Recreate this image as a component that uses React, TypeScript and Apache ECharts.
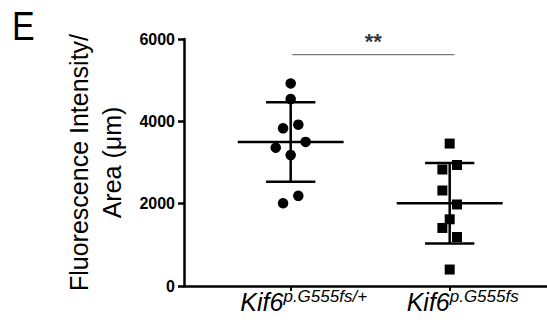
import React, { useEffect, useRef } from "react";
import * as echarts from "echarts";

// ---- data ----
const categoryBase = ["Kif6", "Kif6"];
const categorySup = ["p.G555fs/+", "p.G555fs"];
const categoryPos = [1, 2];

const wtValues = [4920, 4540, 3830, 3920, 3500, 3360, 3180, 2190, 2010];
const wtJitter = [0, 0, -0.048, 0.048, 0.094, -0.094, 0, 0.048, -0.048];
const mutValues = [3460, 2940, 2830, 2320, 1980, 1620, 1410, 1190, 400];
const mutJitter = [0, 0.046, -0.046, -0.046, 0.046, 0, -0.046, 0.046, 0];

const groupMeans = [3500, 2010];
const groupSD = [966, 978];

const yTicks = [0, 2000, 4000, 6000];
const sigLevel = 5620;
const sigLabel = "**";
const sigFrom = 1.01;
const sigTo = 2.03;

const yTitle = ["Fluorescence Intensity/", "Area (\u03bcm)"];
const panelLabel = "E";

const FONT = "'Liberation Sans', Arial, Helvetica, sans-serif";
const MEAN_HALF = 0.333;
const SD_HALF = 0.155;

export default function App() {
  const ref = useRef<HTMLDivElement>(null);
  useEffect(() => {
    if (!ref.current) return;
    const chart = echarts.init(ref.current, null, { renderer: "svg" });
    const wtData = wtValues.map((v, i) => [categoryPos[0] + wtJitter[i], v]);
    const mutData = mutValues.map((v, i) => [categoryPos[1] + mutJitter[i], v]);
    const errData = categoryPos.map((p, i) => [p, groupMeans[i], groupSD[i]]);

    const option: any = {
      animation: false,
      backgroundColor: "#fff",
      grid: { left: 184, right: 0, top: 39, bottom: 39, containLabel: false },
      graphic: [
        {
          type: "text",
          left: 12,
          top: 6,
          scaleX: 0.85,
          style: { text: panelLabel, font: `40px ${FONT}`, fill: "#000" },
        },
      ],
      xAxis: {
        type: "value",
        min: 0.329,
        max: 2.612,
        splitLine: { show: false },
        axisLine: { show: true, lineStyle: { color: "#000", width: 2.5 } },
        axisTick: {
          show: true,
          customValues: categoryPos,
          length: 5,
          lineStyle: { color: "#000", width: 2 },
        },
        axisLabel: {
          show: true,
          customValues: categoryPos,
          margin: 2,
          padding: [0, 0, 0, 26],
          formatter: (v: number) => {
            const i = categoryPos.indexOf(Math.round(v));
            if (i < 0) return "";
            return `{k|${categoryBase[i]}}{s|${categorySup[i]}}`;
          },
          rich: {
            k: {
              fontSize: 25,
              fontStyle: "italic",
              fontFamily: FONT,
              color: "#000",
              lineHeight: 26,
              verticalAlign: "bottom",
            },
            s: {
              fontSize: 17,
              fontStyle: "italic",
              fontFamily: FONT,
              color: "#000",
              lineHeight: 22,
              verticalAlign: "top",
            },
          },
        },
      },
      yAxis: {
        type: "value",
        min: 0,
        max: 6000,
        interval: 2000,
        splitLine: { show: false },
        axisLine: { show: true, lineStyle: { color: "#000", width: 2.5 } },
        axisTick: { show: true, length: 6, lineStyle: { color: "#000", width: 2.5 } },
        axisLabel: {
          margin: 9,
          color: "#000",
          fontWeight: "bold",
          fontSize: 16,
          fontFamily: FONT,
          formatter: (v: number) => (yTicks.indexOf(v) >= 0 ? String(v) : ""),
        },
        name: yTitle.join("\n"),
        nameLocation: "middle",
        nameRotate: 90,
        nameGap: 53,
        nameTextStyle: {
          fontSize: 25,
          lineHeight: 33,
          fontFamily: FONT,
          color: "#000",
        },
      },
      series: [
        {
          type: "scatter",
          data: wtData,
          symbol: "circle",
          symbolSize: 10.5,
          itemStyle: { color: "#000", opacity: 1 },
          z: 2,
        },
        {
          type: "scatter",
          data: mutData,
          symbol: "rect",
          symbolSize: 10,
          itemStyle: { color: "#000", opacity: 1 },
          z: 2,
        },
        {
          type: "custom",
          data: errData,
          encode: { x: 0, y: 1 },
          clip: false,
          z: 3,
          renderItem: (params: any, api: any) => {
            const x = api.value(0);
            const m = api.value(1);
            const s = api.value(2);
            const hi = api.coord([x, m + s]);
            const lo = api.coord([x, m - s]);
            const mL = api.coord([x - MEAN_HALF, m]);
            const mR = api.coord([x + MEAN_HALF, m]);
            const hL = api.coord([x - SD_HALF, m + s]);
            const hR = api.coord([x + SD_HALF, m + s]);
            const lL = api.coord([x - SD_HALF, m - s]);
            const lR = api.coord([x + SD_HALF, m - s]);
            const st = { stroke: "#000", lineWidth: 2.5 };
            return {
              type: "group",
              children: [
                { type: "line", shape: { x1: hi[0], y1: hi[1], x2: lo[0], y2: lo[1] }, style: st },
                { type: "line", shape: { x1: mL[0], y1: mL[1], x2: mR[0], y2: mR[1] }, style: st },
                { type: "line", shape: { x1: hL[0], y1: hL[1], x2: hR[0], y2: hR[1] }, style: st },
                { type: "line", shape: { x1: lL[0], y1: lL[1], x2: lR[0], y2: lR[1] }, style: st },
              ],
            };
          },
        },
        {
          type: "line",
          data: [
            [sigFrom, sigLevel],
            [sigTo, sigLevel],
          ],
          symbol: "none",
          lineStyle: { color: "#777", width: 1.2 },
          silent: true,
        },
        {
          type: "scatter",
          data: [[(sigFrom + sigTo) / 2, sigLevel]],
          symbolSize: 0,
          silent: true,
          label: {
            show: true,
            formatter: sigLabel,
            position: "top",
            distance: 2,
            fontSize: 22,
            fontWeight: "bold",
            fontFamily: FONT,
            color: "#000",
          },
        },
      ],
    };
    chart.setOption(option);
    return () => chart.dispose();
  }, []);
  return <div ref={ref} style={{ width: 547, height: 325, position: "absolute", left: 0, top: 0 }} />;
}
